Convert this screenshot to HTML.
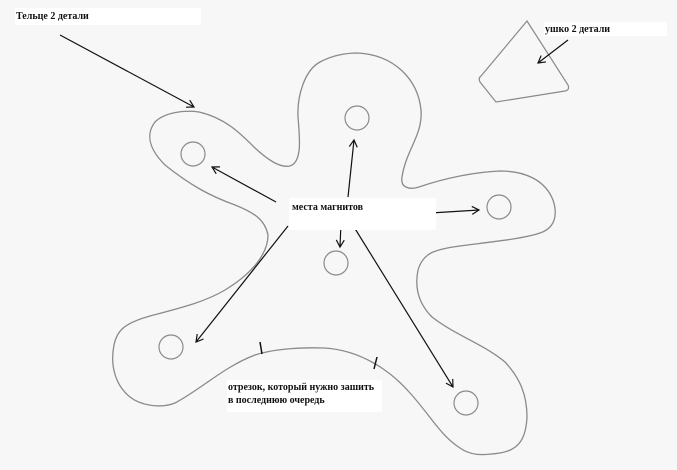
<!DOCTYPE html>
<html><head><meta charset="utf-8"><style>
body{margin:0;background:#f7f7f7;}
svg{display:block}
text{font-family:"Liberation Serif",serif;font-weight:bold;font-size:10px;fill:#111}
</style></head><body>
<svg width="677" height="470" viewBox="0 0 677 470" xmlns="http://www.w3.org/2000/svg">
<defs><marker id="a" markerWidth="10" markerHeight="10" refX="8" refY="5" orient="auto" markerUnits="userSpaceOnUse"><path d="M1,1 L8,5 L1,9" fill="none" stroke="#111" stroke-width="1.2"/></marker></defs>
<path d="M358,53 C395,55 418,80 421,110 C423,135 406,150 402,177 C400,188 410,190 419,187 C445,178 475,172 500,171 C525,171 545,180 553,200 C558,215 555,228 540,233 C520,240 470,244 453,247 C435,250 423,253 418,270 C414,290 420,305 432,317 C455,335 485,345 505,362 C520,378 527,395 527,417 C526,437 520,450 500,453 C480,456 470,455 460,448 C440,435 430,415 410,393 C390,370 360,350 324,348 C295,347 270,350 255,355 C225,366 200,390 175,403 C160,409 140,405 130,397 C115,385 110,365 114,345 C117,330 125,323 150,316 C180,308 205,302 225,290 C250,275 268,255 268,235 C265,220 255,213 235,205 C210,196 190,185 165,165 C150,150 145,135 155,122 C165,112 185,110 199,112 C225,118 240,133 255,148 C268,160 280,168 290,166 C302,162 300,140 298,117 C297,95 305,70 320,62 C333,55 345,53 358,53 Z" fill="none" stroke="#8a8a8a" stroke-width="1.3"/>
<g fill="none" stroke="#8a8a8a" stroke-width="1.2">
<circle cx="357" cy="118" r="12"/><circle cx="193" cy="154" r="12"/><circle cx="499" cy="207" r="12"/><circle cx="336" cy="263" r="12"/><circle cx="171" cy="347" r="12"/><circle cx="466" cy="403" r="12"/>
<path d="M527,21 L568,85 Q570,90 565,91 L496,102 L480,82 Q478,78 481,76 Z"/>
</g>
<g stroke="#111" stroke-width="1.2" fill="none" marker-end="url(#a)">
<line x1="60" y1="35" x2="194" y2="107"/>
<line x1="276" y1="202" x2="212" y2="167"/>
<line x1="348" y1="197" x2="354" y2="140"/>
<line x1="382" y1="216" x2="479" y2="210"/>
<line x1="341" y1="223" x2="340" y2="247"/>
<line x1="288" y1="226" x2="196" y2="342"/>
<line x1="354" y1="227" x2="453" y2="387"/>
<line x1="568" y1="40" x2="538" y2="63"/>
</g>
<g stroke="#111" stroke-width="1.5"><line x1="260" y1="342" x2="262" y2="354"/><line x1="377" y1="357" x2="374" y2="369"/></g>
<rect x="15" y="8" width="186" height="17" fill="#fff"/>
<text x="16" y="19">Тельце 2 детали</text>
<rect x="544" y="22" width="123" height="14" fill="#fff"/>
<text x="545" y="32">ушко 2 детали</text>
<rect x="289" y="198" width="147" height="32" fill="#fff"/>
<text x="292" y="210">места магнитов</text>
<rect x="227" y="380" width="155" height="32" fill="#fff"/>
<text x="228" y="390">отрезок, который нужно зашить</text>
<text x="228" y="403">в последнюю очередь</text>
</svg>
</body></html>
